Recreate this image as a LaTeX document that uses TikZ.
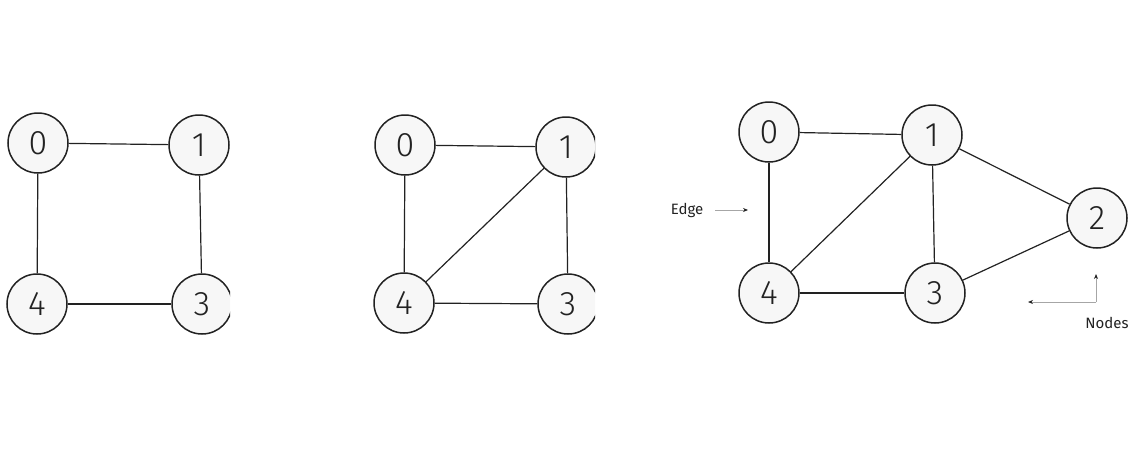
\documentclass[tikz,border=0pt]{standalone}
\usepackage{fontspec}
\setmainfont{Fira Sans}
\newfontfamily\numfont{Fira Sans Light}
\usetikzlibrary{arrows.meta}
\definecolor{nodefill}{HTML}{F7F7F7}
\definecolor{ink}{HTML}{222222}
\tikzset{
  vertex/.style={circle, draw=ink, line width=1.5pt, fill=nodefill,
    minimum size=60pt, inner sep=0pt, font=\numfont\fontsize{34}{34}\selectfont, text=ink},
  link/.style={draw=ink, line width=1.2pt},
  pointer/.style={draw=gray!70, line width=1pt, -{Stealth[length=5pt,width=4pt,color=ink]}},
  caption/.style={font=\fontsize{15}{15}\selectfont, text=ink}
}
\begin{document}
\begin{tikzpicture}[x=1pt, y=-1pt]
\useasboundingbox (0,0) rectangle (1146,463);

% first graph: a 4-cycle
\begin{scope}
  \clip (0,0) rectangle (230,463);
  \node[vertex] (a0) at (38,143) {0};
  \node[vertex] (a1) at (199,145) {1};
  \node[vertex] (a4) at (37,304) {4};
  \node[vertex] (a3) at (202,304) {3};
  \draw[link] (a0) -- (a1);
  \draw[link] (a0) -- (a4);
  \draw[link] (a1) -- (a3);
  \draw[link] (a4) -- (a3);
\end{scope}

% second graph: the cycle with the chord 1-4
\begin{scope}
  \clip (300,0) rectangle (595,463);
  \node[vertex] (b0) at (405,145) {0};
  \node[vertex] (b1) at (566,147) {1};
  \node[vertex] (b4) at (404,303) {4};
  \node[vertex] (b3) at (568,304) {3};
  \draw[link] (b0) -- (b1);
  \draw[link] (b0) -- (b4);
  \draw[link] (b1) -- (b3);
  \draw[link] (b4) -- (b3);
  \draw[link] (b4) -- (b1);
\end{scope}

% third graph: five vertices with labels
\node[vertex] (c0) at (769,132) {0};
\node[vertex] (c1) at (932,135) {1};
\node[vertex] (c2) at (1097,218) {2};
\node[vertex] (c4) at (769,293) {4};
\node[vertex] (c3) at (935,293) {3};
\draw[link] (c0) -- (c1);
\draw[link] (c0) -- (c4);
\draw[link] (c1) -- (c3);
\draw[link] (c4) -- (c3);
\draw[link] (c4) -- (c1);
\draw[link] (c1) -- (c2);
\draw[link] (c3) -- (c2);

\node[caption] (edge) at (687,210) {Edge};
\coordinate (edgeTail) at (715,210);
\coordinate (edgeTip) at (748,210);
\draw[pointer] (edgeTail) -- (edgeTip);

\node[caption] (nodes) at (1107,323) {Nodes};
\coordinate (corner) at (1096,302);
\coordinate (upTip) at (1096,274);
\coordinate (leftTip) at (1028,302);
\draw[pointer] (corner) -- (upTip);
\draw[pointer] (corner) -- (leftTip);
\end{tikzpicture}
\end{document}
